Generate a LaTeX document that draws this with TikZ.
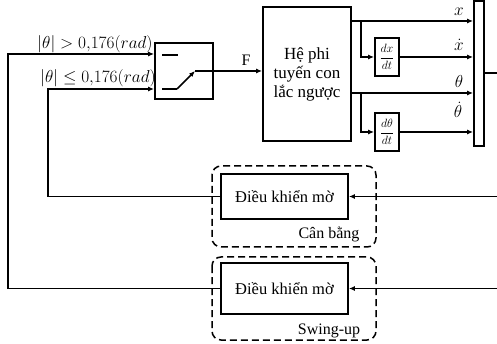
\documentclass[tikz,border=0pt]{standalone}
\usepackage{fontspec}
\setmainfont{Liberation Serif}
\usetikzlibrary{arrows.meta}
\begin{document}
\begin{tikzpicture}[x=1pt,y=-1pt,
  blk/.style={draw,line width=1.8pt,inner sep=0pt,align=center},
  arr/.style={line width=1.6pt,-{Latex[length=6pt,width=5pt]}},
  sarr/.style={line width=1.2pt,-{Latex[length=6pt,width=5pt]}},
  ln/.style={line width=1.6pt},
  grp/.style={draw,line width=1.5pt,dash pattern=on 7pt off 4pt,rounded corners=9pt},
  lbl/.style={font=\fontsize{16}{18}\selectfont,inner sep=1pt}]
\useasboundingbox (0,0) rectangle (497,344);
% blocks
\node[blk,minimum width=58pt,minimum height=56pt] (sw) at (184,71) {};
\node[blk,minimum width=88pt,minimum height=134pt,font=\fontsize{17}{19}\selectfont] (plant) at (307,74) {Hệ phi\\tuyến con\\lắc ngược};
\node[blk,minimum width=10pt,minimum height=145pt] (mux) at (479,73.5) {};
\node[blk,minimum width=24pt,minimum height=38pt,font=\fontsize{13}{15}\selectfont] (dx) at (387,57) {$\displaystyle\frac{dx}{dt}$};
\node[blk,minimum width=24pt,minimum height=38pt,font=\fontsize{13}{15}\selectfont] (dth) at (387,132) {$\displaystyle\frac{d\theta}{dt}$};
\node[blk,minimum width=127pt,minimum height=45pt,font=\fontsize{16.5}{18}\selectfont] (c1) at (284.5,196.5) {Điều khiển mờ};
\node[blk,minimum width=127pt,minimum height=51pt,font=\fontsize{16.5}{18}\selectfont] (c2) at (284.5,288.5) {Điều khiển mờ};
% dashed groups
\draw[grp] (212,166) rectangle (376,247);
\draw[grp] (212,257) rectangle (376,340);
\node[lbl,anchor=base] (g1) at (329,239) {Cân bằng};
\node[lbl,anchor=base] (g2) at (329,334) {Swing-up};
% switch inside
\draw[ln] (162,55) -- (178,55);
\draw[ln] (162,89) -- (177,89);
\draw[arr] (177,89) -- (195,71);
\draw[ln] (195,71) -- (sw.east);
% feedback from controllers to switch
\coordinate (j1) at (8,54);
\coordinate (j2) at (48,89);
\draw[arr] (c2.west) -| (j1) -- (sw.west |- j1);
\draw[arr] (c1.west) -| (j2) -- (sw.west |- j2);
\node[lbl,anchor=base] (t1) at (95,49) {$|\theta|>0{,}176(rad)$};
\node[lbl,anchor=base] (t2) at (98,83) {$|\theta|\le 0{,}176(rad)$};
% F
\draw[arr] (sw.east) -- (plant.west |- sw.east);
\node[lbl,anchor=base] (F) at (246,66) {F};
% plant outputs
\coordinate (ox) at (351,21);
\coordinate (ot) at (351,93);
\draw[sarr] (ox) -- (mux.west |- ox);
\draw[sarr] (361,21) |- (dx.west);
\draw[sarr] (dx.east) -- (mux.west |- dx.east);
\draw[sarr] (ot) -- (mux.west |- ot);
\draw[sarr] (361,93) |- (dth.west);
\draw[sarr] (dth.east) -- (mux.west |- dth.east);
\node[lbl,anchor=base] (lx) at (459,16) {$x$};
\node[lbl,anchor=base] (lxd) at (459,51) {$\dot x$};
\node[lbl,anchor=base] (lt) at (459,88) {$\theta$};
\node[lbl,anchor=base] (ltd) at (458,118) {$\dot\theta$};
% mux output
\coordinate (mo) at (497,73);
\draw[ln] (mux.east |- mo) -- (mo);
% inputs to controllers
\coordinate (r1) at (497,196.5);
\coordinate (r2) at (497,288.5);
\draw[arr] (r1) -- (c1.east);
\draw[arr] (r2) -- (c2.east);
\end{tikzpicture}
\end{document}
